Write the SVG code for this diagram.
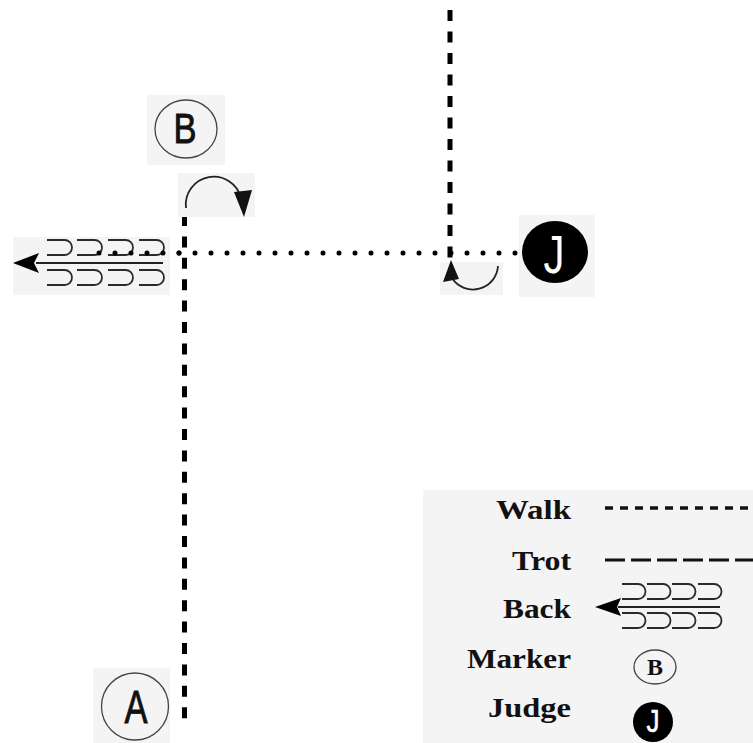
<svg xmlns="http://www.w3.org/2000/svg" width="753" height="743" viewBox="0 0 753 743">
<style>
.bg{fill:#f4f4f4;stroke:none}
.walk{stroke:#000;stroke-width:5;fill:none}
.loop{stroke:#2a2a2a;stroke-width:1.8;fill:none}
.ring{fill:none;stroke:#444;stroke-width:1.3}
.sans{font-family:"Liberation Sans",Arial,sans-serif;text-anchor:middle}
.lbl{font-family:"Liberation Serif","Times New Roman",serif;font-weight:bold;font-size:28px;text-anchor:end;fill:#111}
.arc{stroke:#222;stroke-width:1.8;fill:none}
</style>
<defs>
<path id="lp" d="M0 0 H17.5 A7.5 7.5 0 0 1 17.5 15 H0"/>
<path id="lps" d="M0 0 H16 A7.5 7.5 0 0 1 16 15 H0"/>
</defs>
<rect width="753" height="743" fill="#fff"/>

<g id="connectors">
<line class="walk" x1="450" y1="10" x2="450" y2="258" stroke-dasharray="11 10.5"/>
<line class="walk" x1="184.5" y1="215" x2="184.5" y2="719" stroke-dasharray="11 10.4"/>
<line x1="99" y1="253" x2="516" y2="253" stroke="#000" stroke-width="5" stroke-linecap="round" stroke-dasharray="0 16"/>
</g>

<g id="marker-B">
<rect class="bg" x="147" y="95" width="78" height="70"/>
<ellipse class="ring" cx="186" cy="129" rx="31" ry="29"/>
<text class="sans" x="185" y="143" font-size="42" textLength="23" lengthAdjust="spacingAndGlyphs" fill="#111" stroke="#111" stroke-width="0.9">B</text>
</g>

<g id="marker-A">
<rect class="bg" x="93" y="668" width="77" height="75"/>
<circle class="ring" cx="135" cy="706.5" r="33.5"/>
<text class="sans" x="136" y="723" font-size="47" textLength="23" lengthAdjust="spacingAndGlyphs" fill="#111" stroke="#111" stroke-width="0.9">A</text>
</g>

<g id="judge-J">
<rect class="bg" x="519" y="215" width="76" height="82"/>
<ellipse cx="555" cy="252" rx="33" ry="31" fill="#000"/>
<text class="sans" x="554" y="273" font-size="54" textLength="21" lengthAdjust="spacingAndGlyphs" fill="#fff">J</text>
</g>

<g id="turn-B">
<rect class="bg" x="178" y="173" width="77" height="44"/>
<path class="arc" d="M186 208 A28 28 0 0 1 241 198"/>
<polygon points="234,192 252,190 244,217" fill="#111"/>
</g>

<g id="turn-J">
<rect class="bg" x="440" y="262" width="63" height="33"/>
<path class="arc" d="M498 266 A25 25 0 0 1 452 278"/>
<polygon points="443,282 459,279 451,260" fill="#111"/>
</g>

<g id="rein-back">
<rect class="bg" x="13" y="237" width="157" height="58"/>
<use href="#lp" class="loop" x="47" y="240"/>
<use href="#lp" class="loop" x="77" y="240"/>
<use href="#lp" class="loop" x="108" y="240"/>
<use href="#lp" class="loop" x="139" y="240"/>
<use href="#lp" class="loop" x="47" y="270"/>
<use href="#lp" class="loop" x="77" y="270"/>
<use href="#lp" class="loop" x="108" y="270"/>
<use href="#lp" class="loop" x="139" y="270"/>
<line x1="36" y1="263" x2="163" y2="263" stroke="#222" stroke-width="1.8"/>
<polygon points="13,263 39,253 34,263 39,273" fill="#000"/>
</g>
<line x1="99" y1="253" x2="180" y2="253" stroke="#000" stroke-width="5" stroke-linecap="round" stroke-dasharray="0 16"/>

<g id="legend">
<rect class="bg" x="423" y="490" width="330" height="253"/>
<text class="lbl" x="571" y="519" textLength="75" lengthAdjust="spacingAndGlyphs">Walk</text>
<text class="lbl" x="571" y="570" textLength="59" lengthAdjust="spacingAndGlyphs">Trot</text>
<text class="lbl" x="571" y="618" textLength="68" lengthAdjust="spacingAndGlyphs">Back</text>
<text class="lbl" x="571" y="668" textLength="104" lengthAdjust="spacingAndGlyphs">Marker</text>
<text class="lbl" x="571" y="717" textLength="83" lengthAdjust="spacingAndGlyphs">Judge</text>
<line x1="605" y1="508" x2="753" y2="508" stroke="#111" stroke-width="3.5" stroke-dasharray="8 7"/>
<line x1="605" y1="560" x2="753" y2="560" stroke="#111" stroke-width="3" stroke-dasharray="20 6"/>
<use href="#lps" class="loop" x="622" y="584"/>
<use href="#lps" class="loop" x="647" y="584"/>
<use href="#lps" class="loop" x="672" y="584"/>
<use href="#lps" class="loop" x="698" y="584"/>
<use href="#lps" class="loop" x="622" y="613"/>
<use href="#lps" class="loop" x="647" y="613"/>
<use href="#lps" class="loop" x="672" y="613"/>
<use href="#lps" class="loop" x="698" y="613"/>
<line x1="618" y1="607" x2="720" y2="607" stroke="#222" stroke-width="1.8"/>
<polygon points="595,607 621,598 617,607 621,616" fill="#000"/>
<ellipse class="ring" cx="655" cy="667" rx="21" ry="17"/>
<text x="655" y="675" font-family="Liberation Serif,serif" font-weight="bold" font-size="24" text-anchor="middle" fill="#111">B</text>
<circle cx="653" cy="722" r="20" fill="#000"/>
<text x="653" y="732" font-family="Liberation Sans,sans-serif" font-size="32" text-anchor="middle" textLength="13" lengthAdjust="spacingAndGlyphs" fill="#fff" stroke="#fff" stroke-width="0.6">J</text>
</g>
</svg>
